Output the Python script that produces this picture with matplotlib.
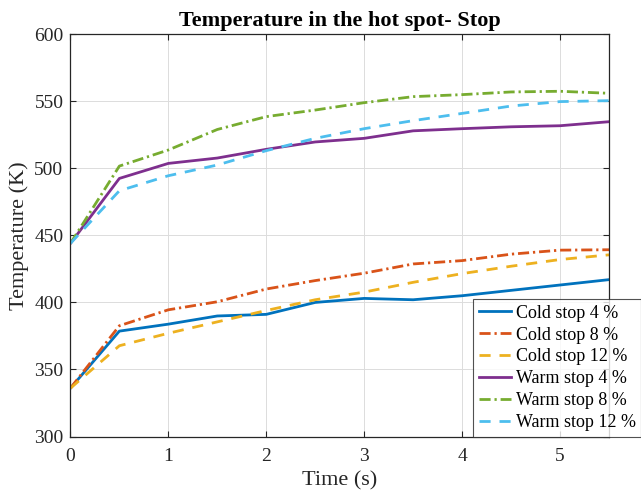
import matplotlib
matplotlib.use("Agg")
import matplotlib.pyplot as plt

time_s = [0, 0.5, 1, 1.5, 2, 2.5, 3, 3.5, 4, 4.5, 5, 5.5]
cold_4 = [336, 378.6, 383.8, 389.9, 391.1, 400.0, 403.0, 402.0, 405.0, 409.0, 413.0, 417.0]
cold_8 = [336, 382.6, 394.5, 400.5, 410.0, 416.3, 421.8, 428.7, 431.2, 436.0, 439.0, 439.3]
cold_12 = [336, 367.7, 377.0, 385.5, 394.0, 402.0, 407.7, 415.0, 421.5, 427.0, 432.0, 435.5]
warm_4 = [444, 492.5, 503.7, 507.7, 514.2, 519.7, 522.4, 528.0, 529.6, 531.0, 531.8, 534.8]
warm_8 = [444, 501.7, 513.7, 529.0, 538.6, 543.5, 549.0, 553.5, 555.0, 557.0, 557.5, 556.0]
warm_12 = [444, 483.3, 494.5, 502.5, 513.2, 522.4, 529.6, 535.6, 541.0, 546.5, 549.8, 550.5]

labels = ["Cold stop 4 %", "Cold stop 8 %", "Cold stop 12 %",
          "Warm stop 4 %", "Warm stop 8 %", "Warm stop 12 %"]
x_ticks = [0, 1, 2, 3, 4, 5]
y_ticks = [300, 350, 400, 450, 500, 550, 600]

colors = ["#0072BD", "#D95319", "#EDB120", "#7E2F8E", "#77AC30", "#4DBEEE"]
dashdot = (0, (4, 1.4, 0.8, 1.4))
dashed = (0, (4, 3.2))
styles = ["-", dashdot, dashed, "-", dashdot, dashed]

plt.rcParams['font.family'] = ['Liberation Serif', 'DejaVu Serif']

fig = plt.figure(figsize=(6.41, 4.97), dpi=100)
ax = fig.add_axes([70.4/641, 1-436.5/497, (609-70.4)/641, (436.5-34.3)/497])

series = [cold_4, cold_8, cold_12, warm_4, warm_8, warm_12]
for s, c, ls, lab in zip(series, colors, styles, labels):
    ax.plot(time_s, s, color=c, linestyle=ls, linewidth=2.0, label=lab)

ax.set_xlim(0, 5.5)
ax.set_ylim(300, 600)
ax.set_xticks(x_ticks)
ax.set_yticks(y_ticks)
ax.grid(True, color="#dcdcdc", linewidth=0.7)
ax.set_axisbelow(True)
ax.tick_params(direction="in", top=True, right=True, labelsize=14, length=4,
               color="#262626", labelcolor="#262626")
ax.tick_params(axis="x", pad=8)
ax.tick_params(axis="y", pad=5)
for sp in ax.spines.values():
    sp.set_color("#262626")
    sp.set_linewidth(0.9)

ax.set_title("Temperature in the hot spot- Stop", fontsize=16, fontweight="bold", pad=6)
ax.set_xlabel("Time (s)", fontsize=16, color="#262626", labelpad=5)
ax.set_ylabel("Temperature (K)", fontsize=16, color="#262626", labelpad=4)

leg = ax.legend(loc="lower right", bbox_to_anchor=(641/641, 1-436.5/497),
                bbox_transform=fig.transFigure, borderaxespad=0, fontsize=13,
                frameon=True, fancybox=False, edgecolor="#262626",
                handlelength=1.8, labelspacing=0.27, borderpad=0.3,
                handletextpad=0.25)
leg.get_frame().set_linewidth(0.8)

fig.savefig("out.png", dpi=100)
